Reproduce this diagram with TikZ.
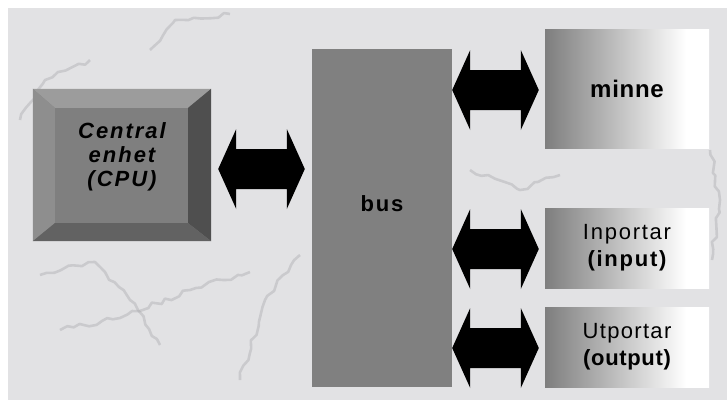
\documentclass[tikz,border=0pt]{standalone}
\usepackage{fontspec}
\setmainfont{Liberation Sans}
\usepackage{xcolor}
\usepackage{tikz}
\usetikzlibrary{calc, positioning, decorations.pathmorphing}
\definecolor{marble}{HTML}{E2E2E4}
\definecolor{vein}{HTML}{A8A8AC}
\definecolor{busgray}{HTML}{808080}
\definecolor{cpuface}{HTML}{7F7F7F}
\definecolor{bevtop}{HTML}{9C9C9C}
\definecolor{bevleft}{HTML}{8E8E8E}
\definecolor{bevright}{HTML}{4F4F4F}
\definecolor{bevbottom}{HTML}{626262}
\definecolor{fadegray}{HTML}{7E7E7E}
\pgfdeclarehorizontalshading{portfade}{100bp}{color(0bp)=(fadegray); color(25bp)=(fadegray); color(68bp)=(white); color(100bp)=(white)}

\tikzset{
  portbox/.style={shading=portfade, minimum width=164pt, inner sep=0pt, align=center, font=\fontsize{22}{27}\selectfont},
  busarrowfill/.style={fill=black},
  veinline/.style={draw=vein, line width=2.6pt, opacity=0.4, line join=round, decorate, decoration={random steps, segment length=7pt, amplitude=2.5pt}}
}

% fat double arrow between two points, height taken from the first
\newcommand{\busarrow}[2]{%
  \fill[busarrowfill] let \p1=(#1), \p2=(#2) in
    (\x1,\y1) -- (\x1+18pt,\y1+40pt) -- (\x1+18pt,\y1+20pt) -- (\x2-18pt,\y1+20pt)
    -- (\x2-18pt,\y1+40pt) -- (\x2,\y1) -- (\x2-18pt,\y1-40pt) -- (\x2-18pt,\y1-20pt)
    -- (\x1+18pt,\y1-20pt) -- (\x1+18pt,\y1-40pt) -- cycle;}

\begin{document}
\begin{tikzpicture}[x=1pt, y=-1pt]
    \pgfmathsetseed{7}
    \useasboundingbox (0,0) rectangle (727,400);
    \fill[white] (0,0) rectangle (727,400);
    \fill[marble] (8,8) rectangle (727,400);
    % marble veins
    \draw[veinline] (40,275) -- (95,262) -- (130,300) -- (160,345);
    \draw[veinline] (60,330) -- (120,318) -- (190,290) -- (250,272);
    \draw[veinline] (150,50) -- (175,20) -- (230,14);
    \draw[veinline] (240,380) -- (265,300) -- (300,255);
    \draw[veinline] (20,120) -- (45,80) -- (90,60);
    \draw[veinline] (470,170) -- (520,190) -- (560,175);
    \draw[veinline] (710,150) -- (720,200) -- (712,260);

    % CPU
    \node[fill=cpuface, minimum width=178pt, minimum height=152pt, inner sep=0pt] (cpu) at (122,165) {};
    \fill[bevtop] (cpu.north west) -- (cpu.north east) -- ($(cpu.north east)+(-23,19)$) -- ($(cpu.north west)+(22,19)$) -- cycle;
    \fill[bevleft] (cpu.north west) -- ($(cpu.north west)+(22,19)$) -- ($(cpu.south west)+(22,-18)$) -- (cpu.south west) -- cycle;
    \fill[bevright] (cpu.north east) -- ($(cpu.north east)+(-23,19)$) -- ($(cpu.south east)+(-23,-18)$) -- (cpu.south east) -- cycle;
    \fill[bevbottom] (cpu.south west) -- ($(cpu.south west)+(22,-18)$) -- ($(cpu.south east)+(-23,-18)$) -- (cpu.south east) -- cycle;
    \node[align=center, font=\fontsize{22}{24}\selectfont\bfseries\itshape\addfontfeature{LetterSpace=9}] (cpulabel) at ($(cpu.center)+(0,-8)$) {Central\\enhet\\(CPU)};

    % Bus
    \node[fill=busgray, minimum width=140pt, minimum height=338pt, inner sep=0pt] (bus) at (382,218) {};
    \node[font=\fontsize{22}{26}\selectfont\bfseries\addfontfeature{LetterSpace=8}] (buslabel) at ($(bus.center)+(0,-14)$) {bus};

    % Memory and ports
    \node[portbox, minimum height=119pt, font=\fontsize{24}{27}\selectfont\bfseries\addfontfeature{LetterSpace=3}] (minne) at (627,88.5) {minne};
    \node[portbox, minimum height=80pt] (inport) at (627,248) {\addfontfeature{LetterSpace=8}Inportar\\\bfseries\addfontfeature{LetterSpace=8}(input)};
    \node[portbox, minimum height=80pt] (utport) at (627,347) {\addfontfeature{LetterSpace=6}Utportar\\\bfseries\addfontfeature{LetterSpace=3}(output)};

    % Arrows
    \busarrow{$(cpu.east)+(7,4)$}{$(bus.west |- cpu.east)+(-7,4)$}
    \busarrow{$(bus.east |- minne.west)+(0,1.5)$}{$(minne.west)+(-6,0)$}
    \busarrow{$(bus.east |- inport.west)+(0,1)$}{$(inport.west)+(-6,0)$}
    \busarrow{$(bus.east |- utport.west)+(0,1)$}{$(utport.west)+(-6,0)$}
\end{tikzpicture}
\end{document}
